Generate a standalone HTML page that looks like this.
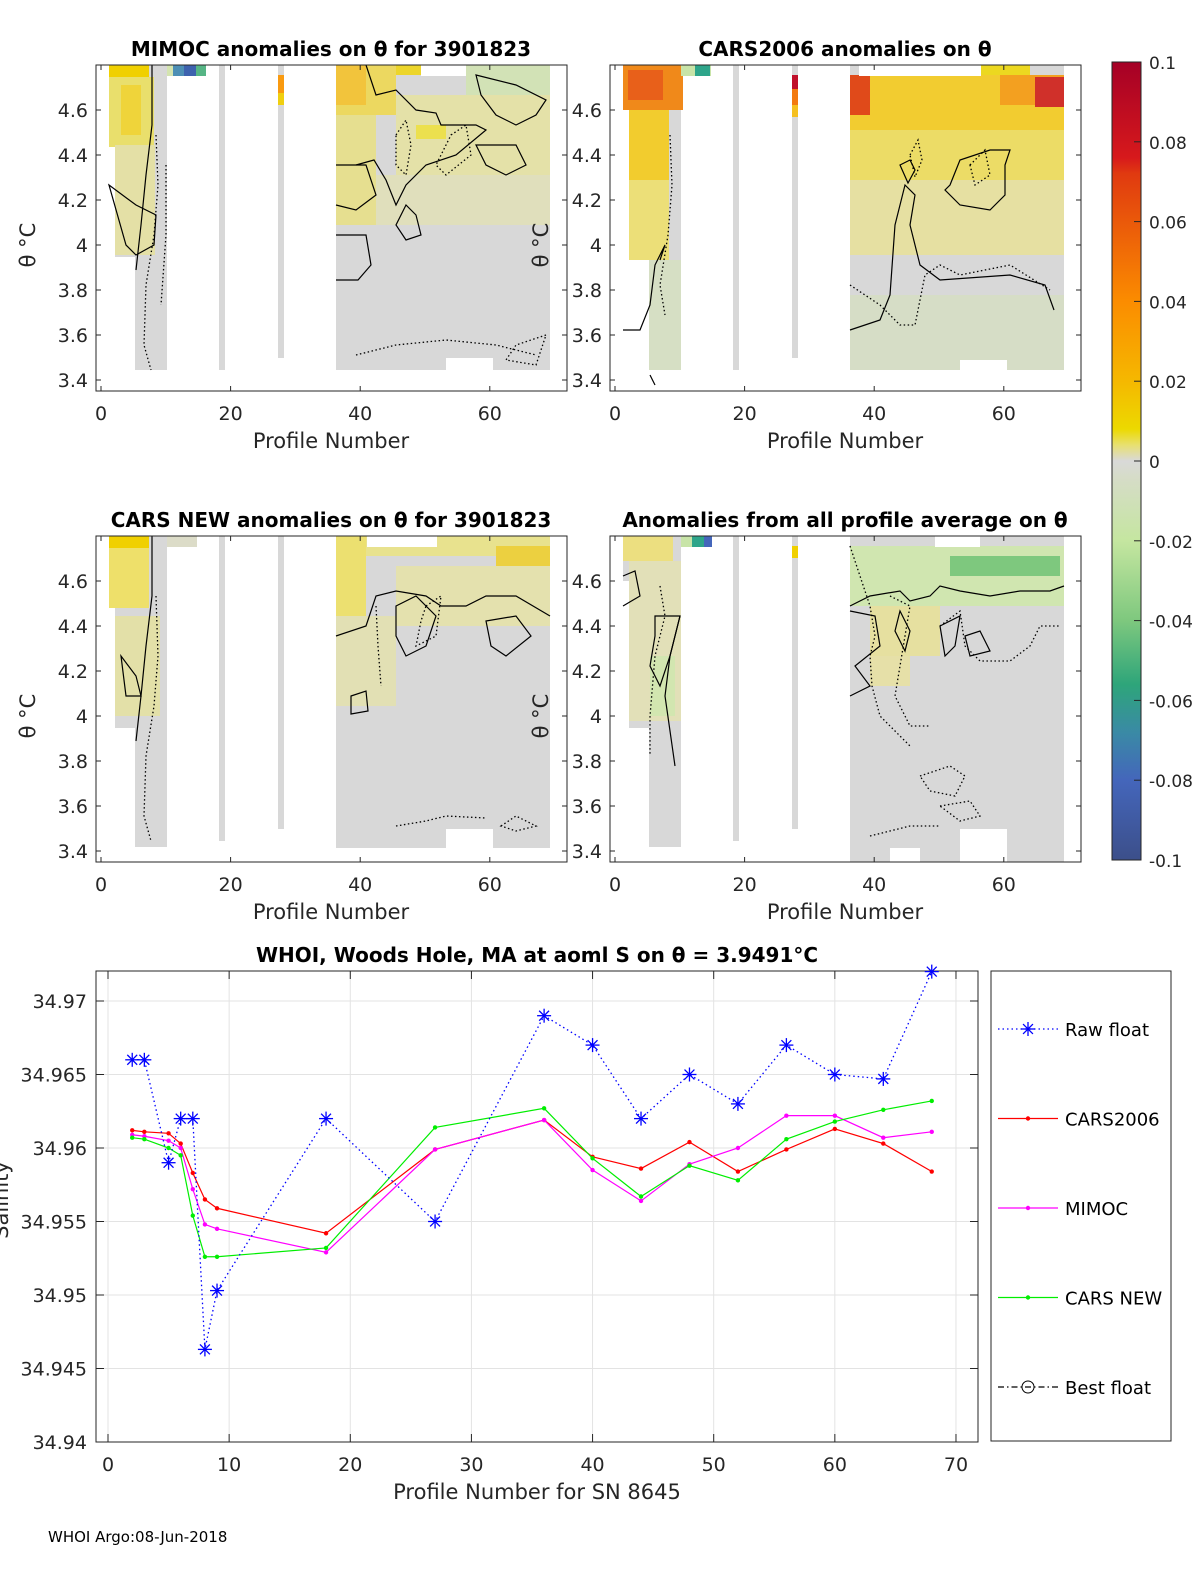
<!DOCTYPE html>
<html><head><meta charset="utf-8"><style>
html,body{margin:0;padding:0;background:#fff}
svg{display:block;font-family:"DejaVu Sans","Liberation Sans",sans-serif}
</style></head><body>
<svg id="fig" width="1200" height="1575" viewBox="0 0 1200 1575" xmlns="http://www.w3.org/2000/svg">
<defs>
<linearGradient id="cbar" x1="0" y1="0" x2="0" y2="1">
<stop offset="0" stop-color="#a50026"/><stop offset="0.12" stop-color="#d7191c"/><stop offset="0.14" stop-color="#e03a10"/>
<stop offset="0.3" stop-color="#fb8c00"/><stop offset="0.4" stop-color="#f5b800"/><stop offset="0.46" stop-color="#ecd900"/>
<stop offset="0.48" stop-color="#e8e070"/><stop offset="0.5" stop-color="#d9d9d9"/><stop offset="0.52" stop-color="#d6dcc8"/>
<stop offset="0.6" stop-color="#c5e6a0"/><stop offset="0.7" stop-color="#7ec87e"/><stop offset="0.78" stop-color="#2ea57a"/>
<stop offset="0.84" stop-color="#3a8aa5"/><stop offset="0.9" stop-color="#4466bb"/><stop offset="1" stop-color="#3c4f8a"/>
</linearGradient>
</defs>
<g id="panels"></g>
<g id="cb"></g>
<g id="line"></g>
<text x="48" y="1542" font-size="15" fill="#000">WHOI Argo:08-Jun-2018</text>
</svg>
<script>
const NS='http://www.w3.org/2000/svg';
function mk(parent,tag,attrs,text){const e=document.createElementNS(NS,tag);for(const k in attrs)e.setAttribute(k,attrs[k]);if(text!==undefined)e.textContent=text;parent.appendChild(e);return e;}

// ---------- heatmap panels ----------
const thetaTicks=[3.4,3.6,3.8,4,4.2,4.4,4.6];
const profTicks=[0,20,40,60];
const panelsG=document.getElementById('panels');
const panelDefs=[
 {x:96,y:65,title:'MIMOC anomalies on θ  for 3901823',name:'mimoc-panel',yl:35},
 {x:610,y:65,title:'CARS2006 anomalies on θ',name:'cars2006-panel',yl:548},
 {x:96,y:536,title:'CARS NEW anomalies on θ for 3901823',name:'carsnew-panel',yl:35},
 {x:610,y:536,title:'Anomalies from all profile average on θ',name:'allavg-panel',yl:548}];
const G='#d8d8d8';
const base=[[13,0,58,45],[19,0,52,192],[39,0,32,305],[123,0,6,305],[182,0,6,293],[240,0,214,305]];
const overlays=[
 [[13,0,40,12,'#f0d000'],[13,12,45,70,'#e9df6c'],[25,20,20,50,'#efd43a'],[19,80,40,110,'#e4e0a6'],[71,0,30,11,'#d4e4b0'],[77,0,30,11,'#4d8fb5'],[88,0,12,11,'#3d62ae'],[100,0,10,11,'#56b585'],[182,10,6,18,'#f99a10'],[182,28,6,12,'#f0cf10'],
  [240,0,85,10,'#ecd52a'],[240,0,60,50,'#ecd860'],[240,50,40,110,'#e6df90'],[300,30,154,80,'#e4e1a8'],[280,110,174,50,'#e0dfbc'],[320,60,30,14,'#ece04e'],[370,0,84,30,'#d2e2b6'],[240,0,30,40,'#f2c43c']],
 [[13,0,60,45,'#f0891a'],[18,5,35,30,'#e8601a'],[19,45,40,70,'#f2cc2e'],[19,115,40,80,'#ecdf78'],[39,195,32,110,'#d6dfc4'],[71,0,30,11,'#c8e4a8'],[85,0,15,11,'#2ea58a'],[182,10,6,14,'#c0102a'],[182,24,6,16,'#f37a10'],[182,40,6,12,'#f5c020'],
  [240,10,214,55,'#f2cc30'],[240,65,214,50,'#ecdc66'],[240,115,214,75,'#e6e0a2'],[240,10,20,40,'#e04a1a'],[390,10,64,30,'#f3a020'],[425,12,29,30,'#d0302a'],[370,0,50,10,'#ecd820'],[240,230,214,75,'#d6ddc6']],
 [[13,0,40,12,'#f0d000'],[13,12,40,60,'#eee06a'],[19,80,45,100,'#e3e0a8'],[71,0,30,11,'#dcdcc8'],
  [240,0,30,80,'#ece070'],[270,0,184,20,'#e8e28e'],[400,10,54,20,'#ecd040'],[300,30,154,60,'#e4e1ae'],[240,80,60,90,'#e2e0b4']],
 [[13,0,50,25,'#ecdf80'],[19,25,52,160,'#e2e0b8'],[40,120,25,60,'#d2e6b0'],[71,0,30,11,'#c8e4a8'],[82,0,12,11,'#2ea58a'],[94,0,8,11,'#4466bb'],[182,10,6,12,'#f0d000'],
  [240,10,214,60,'#d0e6b0'],[340,20,110,20,'#7ec87e'],[260,70,70,50,'#e6e0a0'],[260,120,40,30,'#e6e0a8']]
];
const contours=[
 ['M56 0 L56 60 L50 110 L45 160 L40 205','M13 120 L40 140 L60 150 L58 180 L40 190 L30 180 Z','M240 100 L270 100 L280 130 L260 145 L240 140','M240 170 L270 170 L275 200 L262 215 L240 215','M270 0 L280 30 L300 25 L320 45 L340 48 L345 60 L380 60 L390 65 L360 90 L330 100 L310 120 L300 140 L290 115 L278 95 L260 100','M380 10 L420 20 L450 35 L440 50 L420 60 L400 50 L385 30 Z','M310 140 L300 160 L310 175 L325 170 L320 150 Z','M380 80 L420 80 L430 100 L410 110 L390 100 L385 90 Z'],
 ['M50 195 L55 180 L45 200 L40 240 L30 265 L13 265','M240 265 L270 255 L280 230 L285 160 L295 120 L305 130 L300 160 L310 200 L330 215 L400 210 L435 220 L444 245','M340 120 L350 95 L380 85 L400 85 L395 100 L395 130 L380 145 L350 140 L335 125 Z','M40 310 L45 320','M290 100 L300 95 L305 105 L298 118 Z'],
 ['M56 0 L56 60 L50 110 L45 160 L40 205','M240 100 L270 90 L280 60 L300 55 L330 60 L345 70 L370 70 L390 60 L420 60 L454 80','M300 70 L320 60 L340 80 L330 110 L310 120 L300 100 Z','M390 85 L420 80 L435 100 L410 120 L395 110 Z','M255 160 L270 155 L272 175 L255 178 Z','M25 120 L40 140 L45 160 L30 160 Z'],
 ['M13 40 L25 35 L30 60 L13 70','M45 80 L70 80 L60 120 L50 150 L40 130 L45 100 Z','M70 80 L60 120 L55 160 L65 230','M240 70 L260 60 L290 55 L300 65 L320 60 L330 50 L350 55 L380 60 L410 55 L440 55 L454 50','M240 75 L265 80 L270 110 L245 130 L260 150 L240 160','M290 75 L300 95 L295 115 L285 95 Z','M330 90 L350 80 L345 110 L335 120 Z','M355 100 L370 95 L380 115 L360 120 Z']
];
const dotted=[
 ['M60 70 L62 120 L58 170 L50 220 L48 280 L55 305','M70 100 L70 170 L65 240','M300 70 L310 55 L315 80 L310 110 L300 100 Z','M355 70 L370 60 L375 90 L350 110 L340 100 Z','M260 290 L300 280 L350 275 L400 280 L440 290','M450 270 L420 280 L410 295 L440 300 Z'],
 ['M60 70 L62 120 L58 170 L50 220 L55 250','M240 220 L270 240 L290 260 L305 260 L315 210 L330 200 L350 210 L400 200 L440 225','M300 90 L308 75 L312 95 L305 112 Z','M360 100 L375 85 L380 110 L365 120 Z'],
 ['M60 60 L62 120 L58 170 L50 220 L48 280 L55 305','M330 70 L345 60 L340 100 L320 110 L325 85 Z','M280 70 L282 110 L285 150','M300 290 L330 285 L350 280 L390 282','M405 290 L420 280 L440 290 L420 295 Z'],
 ['M50 50 L55 80 L45 120 L40 180 L40 220','M240 10 L250 40 L260 70 L265 100 L260 120 L262 150 L270 180 L300 210','M280 60 L300 70 L295 100 L290 130 L285 160 L300 190 L320 190','M330 90 L350 75 L355 110 L370 125 L400 125 L420 110 L430 90 L450 90','M310 240 L340 230 L355 240 L345 260 L320 255 Z','M330 270 L360 265 L370 280 L350 285 Z','M260 300 L300 290 L330 290']
];
function addPanel(p,i){
 const g=mk(panelsG,'g',{transform:`translate(${p.x},${p.y})`});
 
 
 const hm=mk(g,'g',{});
 
 
 let bb=base.map(b=>b.slice());
 if(i>=2){bb[2][3]=326-15;bb[5][3]=i==3?326:312;}
 bb.forEach(b=>mk(hm,'rect',{x:b[0],y:b[1],width:b[2],height:b[3],fill:G}));
 overlays[i].forEach(o=>mk(hm,'rect',{x:o[0],y:o[1],width:o[2],height:o[3],fill:o[4]}));
 mk(hm,'rect',{x:i==1?249:i==2?271:325,y:0,width:i==1?122:i==2?70:45,height:11,fill:'#fff'});
 mk(hm,'rect',{x:350,y:i==1?295:293,width:47,height:40,fill:'#fff'});
 if(i==3)mk(hm,'rect',{x:280,y:312,width:30,height:14,fill:'#fff'});
 contours[i].forEach(d=>mk(g,'path',{d:d,fill:'none',stroke:'#000','stroke-width':1.2}));
 dotted[i].forEach(d=>mk(g,'path',{d:d,fill:'none',stroke:'#000','stroke-width':1.3,'stroke-dasharray':'1.5 2.5'}));
 mk(g,'rect',{x:0,y:0,width:471,height:326,fill:'none',stroke:'#262626','stroke-width':1});
 const ty=v=>45+(4.6-v)*225;
 const tx=v=>5+v*6.48;
 thetaTicks.forEach(v=>{
  mk(g,'line',{x1:0,x2:5,y1:ty(v),y2:ty(v),stroke:'#262626'});
  mk(g,'line',{x1:471,x2:466,y1:ty(v),y2:ty(v),stroke:'#262626'});
  const t=mk(g,'text',{x:-8,y:ty(v)+7,'font-size':19,'text-anchor':'end',fill:'#262626'},String(v));
  
  
 });
 profTicks.forEach(v=>{
  mk(g,'line',{x1:tx(v),x2:tx(v),y1:326,y2:321,stroke:'#262626'});
  mk(g,'line',{x1:tx(v),x2:tx(v),y1:0,y2:5,stroke:'#262626'});
  const t=mk(g,'text',{x:tx(v),y:355,'font-size':19,'text-anchor':'middle',fill:'#262626'},String(v));
  
  
 });
 const xl=mk(g,'text',{x:235,y:383,'font-size':21,'text-anchor':'middle',fill:'#262626'},'Profile Number');
 
 
 const tt=mk(g,'text',{x:235,y:-9,'font-size':20,'font-weight':'bold','text-anchor':'middle',fill:'#000'},p.title);
 
 
 const yl=mk(g,'text',{x:0,y:0,'font-size':21,'text-anchor':'middle',fill:'#262626',transform:`translate(${p.yl-p.x},180) rotate(-90)`},'θ °C');
 
 
}
panelDefs.forEach(addPanel);

// ---------- colorbar ----------
const cbTicks=[0.1,0.08,0.06,0.04,0.02,0,-0.02,-0.04,-0.06,-0.08,-0.1];
const cbG=document.getElementById('cb');
mk(cbG,'rect',{x:1112,y:62,width:29,height:798,fill:'url(#cbar)',stroke:'#262626'});
cbTicks.forEach(v=>{
 const y=461-v/0.1*399;
 mk(cbG,'line',{x1:1134,x2:1141,y1:y,y2:y,stroke:'#262626'});
 const t=mk(cbG,'text',{x:1149,y:y+7,'font-size':17,fill:'#262626'},String(v));
 
 
});

// ---------- salinity line chart ----------
const profiles=[2,3,5,6,7,8,9,18,27,36,40,44,48,52,56,60,64,68];
const rawFloat=[34.966,34.966,34.959,34.962,34.962,34.9463,34.9503,34.962,34.955,34.969,34.967,34.962,34.965,34.963,34.967,34.965,34.9647,34.972];
const cars2006=[34.9612,34.9611,34.9610,34.9603,34.9583,34.9565,34.9559,34.9542,34.9599,34.9619,34.9594,34.9586,34.9604,34.9584,34.9599,34.9613,34.9603,34.9584];
const mimoc=[34.9609,34.9608,34.9605,34.9600,34.9572,34.9548,34.9545,34.9529,34.9599,34.9619,34.9585,34.9564,34.9589,34.9600,34.9622,34.9622,34.9607,34.9611];
const carsNew=[34.9607,34.9606,34.9600,34.9595,34.9554,34.9526,34.9526,34.9532,34.9614,34.9627,34.9593,34.9567,34.9588,34.9578,34.9606,34.9618,34.9626,34.9632];
const yTicks=[34.94,34.945,34.95,34.955,34.96,34.965,34.97];
const xTicks=[0,10,20,30,40,50,60,70];
const L=document.getElementById('line');
const X=v=>108+v*12.114;
const Y=v=>1442-(v-34.94)/0.03*441;
mk(L,'rect',{x:96,y:971,width:882,height:471,fill:'#fff'});
yTicks.forEach(v=>{
 mk(L,'line',{x1:96,x2:978,y1:Y(v),y2:Y(v),stroke:'#e3e3e3'});
 mk(L,'line',{x1:96,x2:104,y1:Y(v),y2:Y(v),stroke:'#262626'});
 mk(L,'line',{x1:978,x2:970,y1:Y(v),y2:Y(v),stroke:'#262626'});
 const t=mk(L,'text',{x:87,y:Y(v)+7,'font-size':19,'text-anchor':'end',fill:'#262626'},String(v));
 
 
});
xTicks.forEach(v=>{
 mk(L,'line',{x1:X(v),x2:X(v),y1:971,y2:1442,stroke:'#e3e3e3'});
 mk(L,'line',{x1:X(v),x2:X(v),y1:1442,y2:1434,stroke:'#262626'});
 mk(L,'line',{x1:X(v),x2:X(v),y1:971,y2:979,stroke:'#262626'});
 const t=mk(L,'text',{x:X(v),y:1471,'font-size':19,'text-anchor':'middle',fill:'#262626'},String(v));
 
 
});
mk(L,'rect',{x:96,y:971,width:882,height:471,fill:'none',stroke:'#262626'});
function star(g,x,y,c){
 for(let a=0;a<4;a++){const an=a*Math.PI/4;mk(g,'line',{x1:x-7*Math.cos(an),y1:y-7*Math.sin(an),x2:x+7*Math.cos(an),y2:y+7*Math.sin(an),stroke:c,'stroke-width':1.3});}
}
function series(vals,color,name,dots){
 const g=mk(L,'g',{});
 
 
 const pts=profiles.map((p,i)=>X(p)+','+Y(vals[i])).join(' ');
 mk(g,'polyline',{points:pts,fill:'none',stroke:color,'stroke-width':dots?1.3:1.2,'stroke-dasharray':dots?'1.5 3':'none'});
 profiles.forEach((p,i)=>{ if(dots) star(g,X(p),Y(vals[i]),color); else mk(g,'circle',{cx:X(p),cy:Y(vals[i]),r:2.2,fill:color}); });
}
series(cars2006,'#ff0000','cars2006-line',false);
series(mimoc,'#ff00ff','mimoc-line',false);
series(carsNew,'#00ee00','cars-new-line',false);
series(rawFloat,'#0000ff','raw-float-line',true);
const tl=mk(L,'text',{x:537,y:962,'font-size':20,'font-weight':'bold','text-anchor':'middle',fill:'#000'},'WHOI, Woods Hole, MA at aoml S on θ = 3.9491°C');


const xl=mk(L,'text',{x:537,y:1499,'font-size':21,'text-anchor':'middle',fill:'#262626'},'Profile Number for SN 8645');


const yl=mk(L,'text',{x:0,y:0,'font-size':21,'text-anchor':'middle',fill:'#262626',transform:'translate(8,1200) rotate(-90)'},'Salinity');


const lg=mk(L,'g',{});


mk(lg,'rect',{x:991,y:971,width:180,height:470,fill:'#fff',stroke:'#262626'});
const legNames=['Raw float','CARS2006','MIMOC','CARS NEW','Best float'];
const legColors=['#0000ff','#ff0000','#ff00ff','#00ee00','#000'];
legNames.forEach((n,i)=>{
 const y=1029+i*89.5;
 const e=mk(lg,'g',{});
 
 
 mk(e,'line',{x1:998,x2:1058,y1:y,y2:y,stroke:legColors[i],'stroke-width':1.2,'stroke-dasharray':i==0?'1.5 3':i==4?'6 3 1.5 3':'none'});
 if(i==0)star(e,1028,y,'#0000ff');else if(i==4)mk(e,'circle',{cx:1028,cy:y,r:6,fill:'none',stroke:'#000'});else mk(e,'circle',{cx:1028,cy:y,r:2.2,fill:legColors[i]});
 mk(e,'text',{x:1065,y:y+7,'font-size':18,fill:'#000'},n);
});
</script>
</body></html>
